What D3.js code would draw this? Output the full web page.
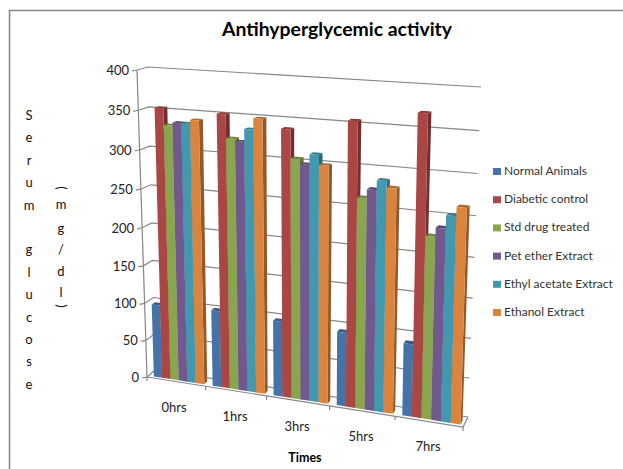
<!DOCTYPE html>
<html>
<head>
<meta charset="utf-8">
<script src="https://cdnjs.cloudflare.com/ajax/libs/d3/7.8.5/d3.min.js"></script>
<style>
  html, body { margin: 0; padding: 0; background: #fff; }
  svg { display: block; font-family: Lato, sans-serif; }
</style>
</head>
<body>
<div id="viz"></div>
<script>
const times = ["0hrs", "1hrs", "3hrs", "5hrs", "7hrs"];
const seriesNames = ["Normal Animals", "Diabetic control", "Std drug treated", "Pet ether Extract", "Ethyl acetate Extract", "Ethanol Extract"];
const normalAnimals = [98, 101, 98, 95, 92];
const diabeticControl = [354, 352, 340, 356, 371];
const stdDrug = [333, 323, 305, 265, 227];
const petEther = [337, 320, 299, 276, 238];
const ethylAcetate = [337, 336, 312, 288, 254];
const ethanolExtract = [342, 350, 300, 280, 265];
const allValues = [normalAnimals, diabeticControl, stdDrug, petEther, ethylAcetate, ethanolExtract];
const valueTicks = [0, 50, 100, 150, 200, 250, 300, 350, 400];
const colors = ["#4572a7", "#aa4643", "#89a54e", "#71588f", "#4198af", "#db843d"];

const width = 623, height = 469;
const svg = d3.select("#viz").append("svg").attr("width", width).attr("height", height);

// outer frame, only top and left survive in the picture
svg.append("path").attr("d", "M9.5,469V10.5H623").attr("fill", "none").attr("stroke", "#868686").attr("stroke-width", 1.5);

// the chart box seen in perspective, corners in page pixels
const frontWall = { bl: [147, 377], br: [463, 427], tr: [472, 92], tl: [137, 70] };
const backWall = { bl: [155, 370], br: [468, 417], tr: [481, 87], tl: [148, 67] };

// unit square -> quad
function quadMap(q) {
  const [x0, y0] = q.bl, [x1, y1] = q.br, [x2, y2] = q.tr, [x3, y3] = q.tl;
  const dx1 = x1 - x2, dx2 = x3 - x2, dx3 = x0 - x1 + x2 - x3;
  const dy1 = y1 - y2, dy2 = y3 - y2, dy3 = y0 - y1 + y2 - y3;
  const den = dx1 * dy2 - dx2 * dy1;
  const g = (dx3 * dy2 - dx2 * dy3) / den;
  const h = (dx1 * dy3 - dx3 * dy1) / den;
  const a = x1 - x0 + g * x1, b = x3 - x0 + h * x3;
  const d = y1 - y0 + g * y1, e = y3 - y0 + h * y3;
  return (u, v) => {
    const w = g * u + h * v + 1;
    return [(a * u + b * v + x0) / w, (d * u + e * v + y0) / w];
  };
}
const frontMap = quadMap(frontWall), backMap = quadMap(backWall);

// u along the times, z into the depth, v up the value axis
function project(u, z, v) {
  const f = frontMap(u, v), b = backMap(u, v);
  return [f[0] + (b[0] - f[0]) * z, f[1] + (b[1] - f[1]) * z];
}

const x = d3.scaleBand().domain(times).range([0, 1]).paddingInner(0.14).paddingOuter(0.07).align(0.65);
const xSeries = d3.scaleBand().domain(seriesNames).range([0, x.bandwidth()]);
const y = d3.scaleLinear().domain([0, 400]).range([0, 1]);
const depth = { front: 0.2, back: 0.58 };

const pathOf = pts => "M" + pts.map(p => p.map(n => n.toFixed(2)).join(",")).join("L") + "Z";
const lineOf = d3.line();

// walls gridlines
const grid = svg.append("g").attr("fill", "none").attr("stroke", "#868686").attr("stroke-width", 1.2);
valueTicks.forEach(t => {
  const v = y(t);
  grid.append("path").attr("d", lineOf([
    [project(0, 0, v)[0] - 5, project(0, 0, v)[1] + 1],
    project(0, 0, v),
    project(0, 1, v),
    project(1, 1, v),
  ]));
});
grid.append("path").attr("d", lineOf([project(0, 0, 1), project(0, 0, 0)]));
grid.append("path").attr("d", lineOf([project(0, 0, 0), project(1, 0, 0), project(1, 1, 0)]));

// tick marks under the floor
d3.range(times.length + 1).forEach(i => {
  const p = project(i / times.length, 0, 0);
  grid.append("path").attr("d", lineOf([p, [p[0], p[1] + 4]]));
});

// value labels
const tickYs = svg.append("g").attr("font-size", 13).attr("fill", "#222").attr("text-anchor", "end");
valueTicks.forEach(t => {
  const p = project(0, 0, y(t));
  tickYs.append("text").attr("x", p[0] - 8).attr("y", p[1] + 5).text(t);
});

// bars, left to right so each bar hides the side of the one before
const bars = svg.append("g");
times.forEach((t, ti) => {
  seriesNames.forEach((s, si) => {
    const u0 = x(t) + xSeries(s), u1 = u0 + xSeries.bandwidth();
    const top = y(allValues[si][ti]);
    const c = d3.color(colors[si]);
    const fl = project(u0, depth.front, 0), fr = project(u1, depth.front, 0);
    const tl = project(u0, depth.front, top), tr = project(u1, depth.front, top);
    const brb = project(u1, depth.back, 0), brt = project(u1, depth.back, top), blt = project(u0, depth.back, top);
    bars.append("path").attr("d", pathOf([fr, brb, brt, tr])).attr("fill", c.darker(1.1));
    bars.append("path").attr("d", pathOf([tl, tr, brt, blt])).attr("fill", c.darker(0.6));
    bars.append("path").attr("d", pathOf([fl, fr, tr, tl])).attr("fill", colors[si]);
  });
});

// category labels
const labelPos = [[174, 412], [235, 421], [297, 431], [361, 441], [428, 451]];
svg.append("g").attr("font-size", 13).attr("fill", "#222").attr("text-anchor", "middle")
  .selectAll("text").data(times).join("text")
  .attr("x", (d, i) => labelPos[i][0]).attr("y", (d, i) => labelPos[i][1]).text(d => d);

// titles
svg.append("text").attr("x", 337).attr("y", 36).attr("text-anchor", "middle")
  .attr("font-size", 19.4).attr("font-weight", 700).attr("fill", "#000").text("Antihyperglycemic activity");
svg.append("text").attr("x", 305).attr("y", 462).attr("text-anchor", "middle")
  .attr("font-size", 12.5).attr("font-weight", 700).attr("fill", "#000").text("Times");

// stacked y title
const yTitle = svg.append("g").attr("font-size", 13).attr("fill", "#111").attr("text-anchor", "middle");
"Serum glucose".split("").forEach((ch, i) => {
  yTitle.append("text").attr("x", 29).attr("y", 120 + i * 22.4).text(ch);
});
const title2 = [["m", 205], ["g", 229], ["/", 250], ["d", 272], ["l", 293]];
title2.forEach(d => yTitle.append("text").attr("x", 61).attr("y", d[1] + 4).text(d[0]));
yTitle.append("text").attr("transform", "translate(61,188) rotate(90)").attr("dy", 4).text("(");
yTitle.append("text").attr("transform", "translate(61,306) rotate(90)").attr("dy", 4).text(")");

// legend
const legend = svg.append("g");
seriesNames.forEach((s, i) => {
  const ly = 171 + i * 28.2;
  legend.append("rect").attr("x", 493).attr("y", ly - 3).attr("width", 8).attr("height", 7).attr("fill", colors[i]);
  legend.append("text").attr("x", 504).attr("y", ly + 4).attr("font-size", 12).attr("fill", "#333").text(s);
});
</script>
</body>
</html>
